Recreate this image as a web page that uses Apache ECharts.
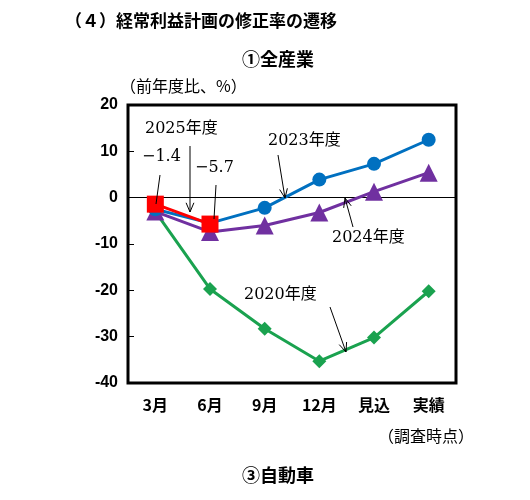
<!DOCTYPE html><html><head><meta charset="utf-8">
<script src="https://cdn.jsdelivr.net/npm/echarts@6/dist/echarts.min.js"></script>
<style>body{margin:0;background:#fff}#c{width:530px;height:500px}</style></head><body><div id="c"></div>
<script>
const categories=['3月','6月','9月','12月','見込','実績'];
const s2025=[-1.4,-5.7,null,null,null,null];
const s2023=[-2.5,-5.5,-2.2,3.9,7.3,12.5];
const s2024=[-3,-7.4,-6,-3.2,1.3,5.4];
const s2020=[-3,-19.7,-28.3,-35.3,-30.2,-20.2];
const yTicks=[-40,-30,-20,-10,0,10,20];
const serif='"DejaVu Serif","Liberation Serif","Noto Sans CJK JP",serif';
const sans='"Noto Sans CJK JP",sans-serif';
const c=echarts.init(document.getElementById('c'));
function arrow(x1,y1,x2,y2,head){
  const g=[{type:'line',shape:{x1,y1,x2,y2},style:{stroke:'#000',lineWidth:1},z:20}];
  if(head){const a=Math.atan2(y2-y1,x2-x1),L=10,w=0.4;
    g.push({type:'polyline',shape:{points:[[x2-L*Math.cos(a-w),y2-L*Math.sin(a-w)],[x2,y2],[x2-L*Math.cos(a+w),y2-L*Math.sin(a+w)]]},style:{stroke:'#000',fill:null,lineWidth:1},z:20});}
  return g;}
function txt(x,y,t,f,s,w){return {type:'text',left:x,top:y,style:{text:t,font:(w||'normal')+' '+(s||16)+'px '+(f||serif),fill:'#000'},z:20};}
const line=(name,data,color,symbol,size)=>({name,type:'line',data,symbol,symbolSize:size,itemStyle:{color},lineStyle:{color,width:3},z:name==='2025'?10:5});
c.setOption({animation:false,
grid:{left:128,right:74,top:105,bottom:117,show:true,borderColor:'#000',borderWidth:3},
xAxis:{type:'category',data:categories,boundaryGap:true,axisLine:{show:false},axisTick:{show:false},axisLabel:{color:'#000',fontSize:16,fontWeight:'bold',fontFamily:sans,margin:14}},
yAxis:{type:'value',min:-40,max:20,interval:10,axisLine:{show:false},axisTick:{show:true,inside:true,length:6,lineStyle:{color:'#000'}},splitLine:{show:false},axisLabel:{color:'#000',fontSize:16,fontWeight:'bold',fontFamily:'"Liberation Sans",sans-serif',margin:10}},
series:[
 {type:'line',data:[],symbol:'none',silent:true,z:1,markLine:{symbol:'none',silent:true,label:{show:false},lineStyle:{color:'#000',width:1,type:'solid'},data:[{yAxis:0}]}},
 line('2020',s2020,'#1aa24f','diamond',14),line('2024',s2024,'#7030a0','triangle',18),line('2023',s2023,'#0070c0','circle',14),
 line('2025',s2025,'#ff0000','rect',17)],
graphic:[
 txt(65,12,'（４）経常利益計画の修正率の遷移',sans,17,'bold'),
 txt(242,50,'①全産業',sans,18,'bold'),
 txt(120,78,'（前年度比、%）',sans,16),
 txt(378,428,'（調査時点）',sans,16),
 txt(242,466,'③自動車',sans,18,'bold'),
 txt(145,121,'2025年度'),txt(142,149,'−1.4'),txt(195,160,'−5.7'),
 txt(268,133,'2023年度'),txt(332,230,'2024年度'),txt(244,287,'2020年度'),
 ...arrow(190,146,190,212,true),...arrow(160,175,156,204,false),...arrow(216,185,214,219,false),
 ...arrow(278,155,285,198,true),...arrow(353,227,345,198,true),...arrow(330,307,346,352,true)
]});
</script></body></html>
